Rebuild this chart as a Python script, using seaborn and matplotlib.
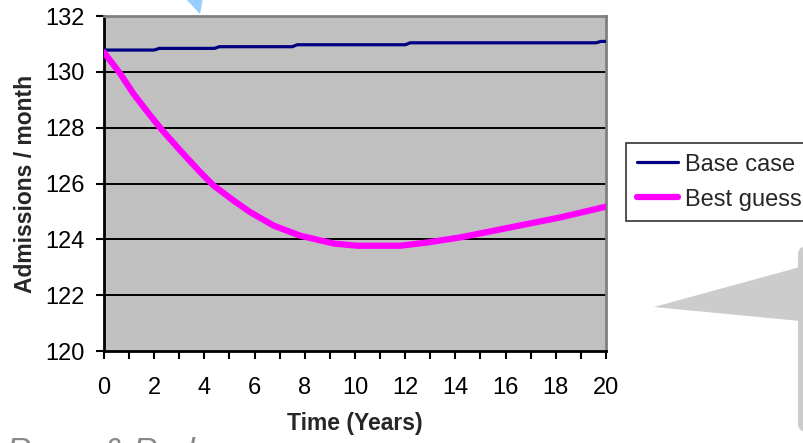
import numpy as np
import pandas as pd
import matplotlib
matplotlib.use("Agg")
import matplotlib.pyplot as plt
import seaborn as sns
from matplotlib.ticker import MultipleLocator
from matplotlib.patches import Polygon, FancyBboxPatch
from matplotlib.lines import Line2D

# data
best_years = [0, 0.64, 1.17, 1.84, 2.3, 3.03, 3.83, 4.36, 5.16, 5.83, 6.76, 7.82, 9.15, 10.1,
              11.8, 12.9, 14.2, 16.2, 18.2, 20]
best_guess = [130.7, 129.94, 129.22, 128.44, 127.93, 127.19, 126.41, 125.93, 125.39, 124.97,
              124.49, 124.13, 123.85, 123.77, 123.77, 123.89, 124.07, 124.43, 124.79, 125.17]
base_years = [0, 2.0, 2.2, 4.4, 4.6, 7.5, 7.7, 12.0, 12.2, 19.6, 19.8, 20]
base_case = [130.78, 130.78, 130.84, 130.84, 130.9, 130.9, 130.97, 130.97, 131.04, 131.04, 131.09, 131.09]

series_names = ["Base case", "Best guess"]
series_colors = ["#000080", "#FF00FF"]
y_ticks = [120, 122, 124, 126, 128, 130, 132]

#------------------------------------------------------------------------------------------------------------------------------

sns.set_style("white")
plt.rcParams['font.family'] = ['Liberation Sans', 'DejaVu Sans']

W, H = 804, 443
fig = plt.figure(figsize=(W / 100, H / 100), dpi=100)
ax = fig.add_axes([104 / W, 1 - 351 / H, 502 / W, 335 / H])
ax.set_facecolor("#C0C0C0")

df_base = pd.DataFrame({'Time': base_years, 'Value': base_case})
df_best = pd.DataFrame({'Time': best_years, 'Value': best_guess})

# gridlines first so lines sit above them
for v in y_ticks[1:-1]:
    ax.axhline(v, color="black", lw=1.4, zorder=1)

sns.lineplot(data=df_base, x='Time', y='Value', ax=ax, color=series_colors[0], lw=2.3, zorder=3)
sns.lineplot(data=df_best, x='Time', y='Value', ax=ax, color=series_colors[1], lw=4.5, zorder=3)

ax.set_xlim(0, 20)
ax.set_ylim(120, 132)
ax.set_yticks(y_ticks)
ax.xaxis.set_major_locator(MultipleLocator(2))
ax.xaxis.set_minor_locator(MultipleLocator(1))
ax.tick_params(axis='both', which='both', direction='out', length=6, width=1.5, color='black',
               labelsize=17, labelcolor='black')
ax.tick_params(axis='x', which='both', bottom=True, pad=13)
ax.tick_params(axis='y', which='major', left=True, pad=8)

for side in ['left', 'bottom']:
    ax.spines[side].set_color('black')
    ax.spines[side].set_linewidth(2)
for side in ['top', 'right']:
    ax.spines[side].set_visible(True)
    ax.spines[side].set_color('#808080')
    ax.spines[side].set_linewidth(2)

ax.set_xlabel('Time (Years)', fontsize=16.5, fontweight='bold', labelpad=9)
ax.set_ylabel('Admissions / month', fontsize=16.5, fontweight='bold', labelpad=6)

# legend, partly running off the right edge
handles = [Line2D([0], [0], color=series_colors[0], lw=2.3),
           Line2D([0], [0], color=series_colors[1], lw=4.5)]
leg = fig.legend(handles, series_names, loc='upper left', bbox_to_anchor=(626 / W, 1 - 143 / H),
                 fontsize=17, frameon=True, fancybox=False, handlelength=1.75, handletextpad=0.28,
                 borderpad=0.45, labelspacing=0.55, borderaxespad=0)
leg.get_frame().set_edgecolor('black')
leg.get_frame().set_linewidth(1.2)

# slide decorations around the chart
def px(x, y):
    return (x / W, 1 - y / H)

tri_blue = Polygon([px(185, -2), px(203, -2), px(200, 14)], closed=True, transform=fig.transFigure,
                   facecolor='#99CCFF', edgecolor='none', zorder=0)
fig.patches.append(tri_blue)

callout = FancyBboxPatch(px(798, 433), 60 / W, 188 / H, boxstyle="round,pad=0,rounding_size=0.02",
                         transform=fig.transFigure, facecolor='#CCCCCC', edgecolor='none', zorder=0)
fig.patches.append(callout)
tri_gray = Polygon([px(654, 307), px(800, 267), px(800, 321)], closed=True, transform=fig.transFigure,
                   facecolor='#CCCCCC', edgecolor='none', zorder=0)
fig.patches.append(tri_gray)

# caption cut by the bottom edge, as in the source slide
fig.text(7 / W, 1 - 437 / H, 'Rowe & Rud', fontsize=24, fontstyle='italic', color='#888888', va='top', ha='left')

fig.savefig('out.png', dpi=100)
